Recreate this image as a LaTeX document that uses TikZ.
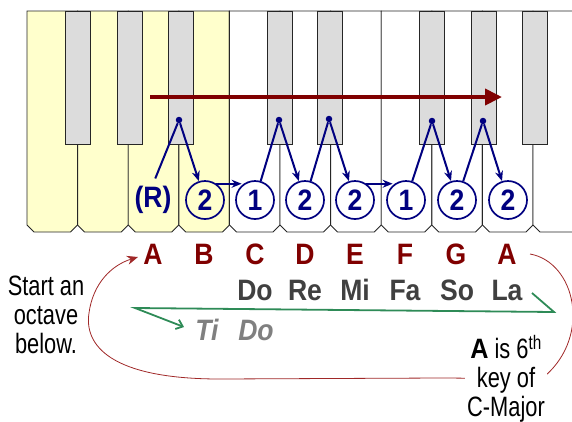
\documentclass[tikz,border=0pt]{standalone}
\usepackage{fontspec}
\setmainfont{Liberation Sans}[FakeStretch=0.78, BoldFeatures={FakeStretch=0.9}, BoldItalicFeatures={FakeStretch=0.9}]
\usetikzlibrary{arrows.meta}
\definecolor{navy}{RGB}{0,0,128}
\definecolor{notered}{RGB}{128,0,0}
\definecolor{kyellow}{RGB}{255,255,204}
\definecolor{kgray}{RGB}{220,220,220}
\definecolor{solgray}{RGB}{64,64,64}
\definecolor{tigray}{RGB}{128,128,128}
\definecolor{sgreen}{RGB}{46,139,87}
\definecolor{curvered}{RGB}{160,40,40}
\newcommand\bigtxt{\fontsize{28}{29}\selectfont}
\newcommand\boldtxt{\fontsize{29.5}{31}\selectfont\bfseries}
\begin{document}
\begin{tikzpicture}[x=1pt,y=-1pt,
  wkey/.style={draw=black!85, line width=0.9pt},
  bkey/.style={fill=kgray, draw=black!85, line width=0.9pt},
  fdot/.style={circle, fill=navy, inner sep=0pt, minimum size=6.5pt},
  fing/.style={circle, draw=navy, line width=1.7pt, minimum size=38pt, inner sep=0pt, text=navy, font=\boldtxt},
  link/.style={draw=navy, line width=2pt},
  arr/.style={link, -{Stealth[length=10pt,width=8pt]}},
  note/.style={text=notered, font=\boldtxt, anchor=base},
  solf/.style={text=solgray, font=\boldtxt, anchor=base},
  tido/.style={text=tigray, font=\boldtxt\itshape, anchor=base}]
\useasboundingbox (0,0) rectangle (572,421);
% white keys
\foreach \i/\c in {0/kyellow,1/kyellow,2/kyellow,3/kyellow,4/white,5/white,6/white,7/white,8/white,9/white,10/white}{
  \pgfmathsetmacro\xa{27+50.6*\i}
  \pgfmathsetmacro\xb{\xa+50.6}
  \filldraw[wkey, fill=\c] (\xa,11) -- (\xa,225) -- (\xa+7,232) -- (\xb-7,232) -- (\xb,225) -- (\xb,11) -- cycle;
}
% black keys
\foreach \a in {65,117,168,267,317,419,471,522}{
  \filldraw[bkey] (\a,11) rectangle (\a+25,144);
}
% red arrow
\coordinate (rs) at (150,97);
\coordinate (re) at (502,97);
\draw[line width=3.8pt, draw=notered, -{Triangle[length=17pt,width=16pt]}] (rs) -- (re);
% dots
\node[fdot] (d1) at (179,120) {};
\node[fdot] (d2) at (279,120) {};
\node[fdot] (d3) at (329,119) {};
\node[fdot] (d4) at (432,121) {};
\node[fdot] (d5) at (483,121) {};
% fingers
\node[text=navy, font=\boldtxt, inner sep=2pt] (R) at (153,200) {(R)};
\node[fing] (cB) at (205,200) {2};
\node[fing] (cC) at (255,200) {1};
\node[fing] (cD) at (305,200) {2};
\node[fing] (cE) at (355,200) {2};
\node[fing] (cF) at (406,200) {1};
\node[fing] (cG) at (457,200) {2};
\node[fing] (cA) at (508,200) {2};
% connectors
\draw[link, shorten >=6pt] (d1) -- (R.north);
\draw[arr] (d1) -- (cB);
\draw[arr, shorten >=2pt] (cB.55) -- (cC.125);
\draw[link] (d2) -- (cC);
\draw[arr] (d2) -- (cD);
\draw[link] (d3) -- (cD);
\draw[arr] (d3) -- (cE);
\draw[arr, shorten >=2pt] (cE.55) -- (cF.125);
\draw[link] (d4) -- (cF);
\draw[arr] (d4) -- (cG);
\draw[link] (d5) -- (cG);
\draw[arr] (d5) -- (cA);
% note names
\node[note] (nA) at (153,264) {A};
\node[note] (nB) at (204,264) {B};
\node[note] (nC) at (255,264) {C};
\node[note] (nD) at (305,264) {D};
\node[note] (nE) at (355,264) {E};
\node[note] (nF) at (405,264) {F};
\node[note] (nG) at (456,264) {G};
\node[note] (nA2) at (507,264) {A};
% solfege
\node[solf] (sDo) at (255,300) {Do};
\node[solf] (sRe) at (305,300) {Re};
\node[solf] (sMi) at (355,300) {Mi};
\node[solf] (sFa) at (405,300) {Fa};
\node[solf] (sSo) at (457,300) {So};
\node[solf] (sLa) at (507,300) {La};
\node[tido] (tTi) at (207,340) {Ti};
\node[tido] (tDo) at (256,340) {Do};
% green line
\coordinate (g1) at (532,293);
\coordinate (g2) at (554,312);
\coordinate (g3) at (135,308);
\coordinate (g4) at (184,327);
\draw[sgreen, line width=1.8pt, -{Straight Barb[length=6pt,width=10pt]}] (g1) -- (g2) -- (g3) -- (g4);
% red curve
\coordinate (c0) at (530,254);
\coordinate (c1) at (138,257);
\draw[curvered, line width=0.8pt, -{Stealth[length=11pt,width=9pt]}]
  (c0) .. controls (575,262) and (592,335) .. (545,376)
  .. controls (525,380) and (480,378) .. (440,378)
  -- (220,379) .. controls (110,379) and (84,345) .. (89,313)
  .. controls (93,283) and (112,265) .. (c1);
% texts
\node[align=center, font=\bigtxt] (start) at (46,314.5) {Start an\\octave\\below.};
\node[align=center, font=\bigtxt, fill=white, inner sep=2pt] (akey) at (506,379) {\textbf{A} is 6\textsuperscript{th}\\key of\\C-Major};
\end{tikzpicture}
\end{document}
